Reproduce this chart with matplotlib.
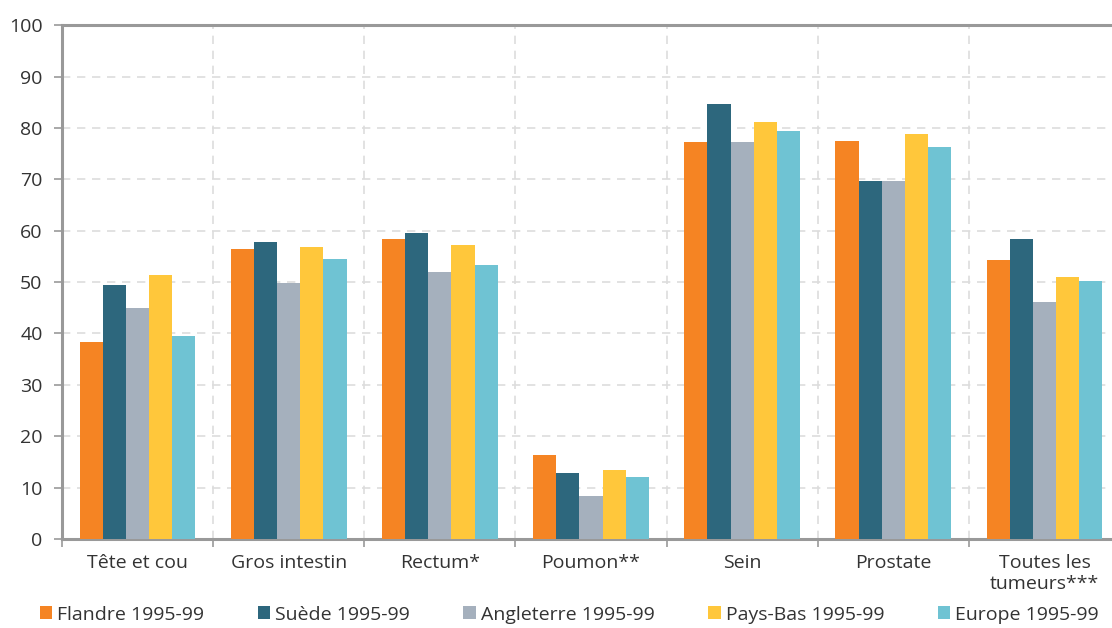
import matplotlib
matplotlib.use("Agg")
import matplotlib.pyplot as plt
import numpy as np
from matplotlib.patches import Patch

categories = ["Tête et cou", "Gros intestin", "Rectum*", "Poumon**", "Sein", "Prostate", "Toutes les\ntumeurs***"]
series_names = ["Flandre 1995-99", "Suède 1995-99", "Angleterre 1995-99", "Pays-Bas 1995-99", "Europe 1995-99"]
flandre = [38.3, 56.5, 58.4, 16.4, 77.2, 77.5, 54.2]
suede = [49.4, 57.7, 59.6, 12.9, 84.6, 69.6, 58.3]
angleterre = [44.9, 49.9, 51.9, 8.3, 77.2, 69.6, 46.2]
paysbas = [51.4, 56.8, 57.2, 13.4, 81.2, 78.9, 51.0]
europe = [39.6, 54.5, 53.3, 12.0, 79.3, 76.3, 50.3]
colors = ["#F58423", "#2D677D", "#A5B0BD", "#FFC73B", "#6FC3D3"]
yticks = list(range(0, 101, 10))

plt.rcParams['font.family'] = ['Open Sans', 'DejaVu Sans']
fig = plt.figure(figsize=(11.12, 6.28), dpi=100)
ax = fig.add_axes([0.0558, 0.1417, 1.0072 - 0.0558, 0.960 - 0.1417])

data = [flandre, suede, angleterre, paysbas, europe]
x = np.arange(len(categories))
w = 0.153
for i, (vals, c, name) in enumerate(zip(data, colors, series_names)):
    ax.bar(x + (i - 2) * w, vals, width=w, color=c, label=name, zorder=3, linewidth=0)

ax.set_xlim(-0.5, len(categories) - 0.5)
ax.set_ylim(0, 100)
ax.set_yticks(yticks)
ax.set_yticklabels([str(t) for t in yticks], fontsize=14, color="#333333")
ax.set_xticks(x)
ax.set_xticklabels(categories, fontsize=14, color="#333333", linespacing=1.2)
ax.tick_params(axis='x', length=0, pad=11)
ax.tick_params(axis='y', length=6, width=1.2, color="#999999", pad=8)
# category boundary ticks
ax.set_xticks(np.arange(-0.5, len(categories), 1), minor=True)
ax.tick_params(axis='x', which='minor', length=6, width=1.2, color="#999999")

ax.yaxis.grid(True, linestyle=(0, (5, 4)), color="#DDDDDD", linewidth=1.2, zorder=0)
ax.xaxis.grid(True, which='minor', linestyle=(0, (5, 4)), color="#DDDDDD", linewidth=1.2, zorder=0)
ax.xaxis.grid(False, which='major')

for s in ['left', 'bottom', 'top']:
    ax.spines[s].set_color("#999999")
    ax.spines[s].set_linewidth(2.2)
ax.spines['right'].set_visible(False)

handles = [Patch(facecolor=c, edgecolor='none') for c in colors]
fig.legend(handles, series_names, loc='lower left', bbox_to_anchor=(0.020, -0.021), ncol=5,
           frameon=False, fontsize=14, handlelength=0.65, handleheight=0.65, handletextpad=0.25,
           columnspacing=2.75, labelcolor="#333333")

fig.savefig("out.png", dpi=100)
